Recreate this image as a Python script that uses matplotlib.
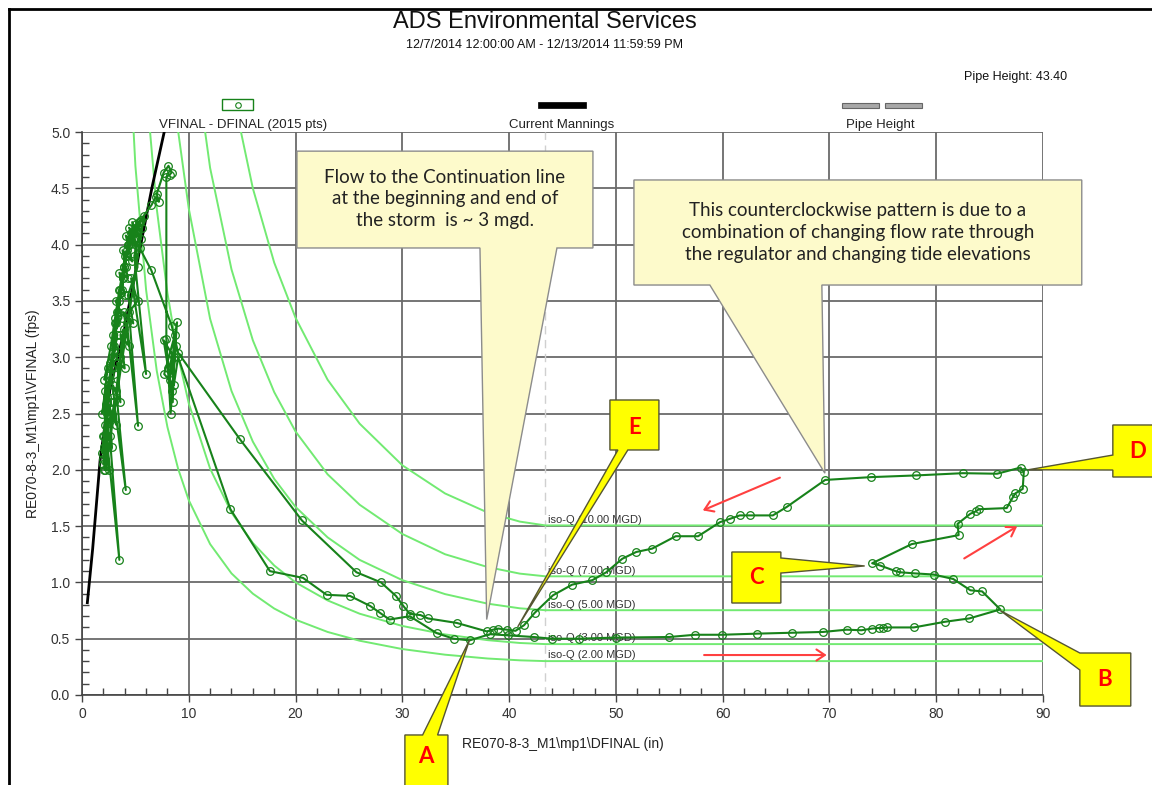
import matplotlib
matplotlib.use('Agg')
import matplotlib.pyplot as plt
from matplotlib.patches import Polygon, Rectangle, FancyArrowPatch
from matplotlib.lines import Line2D
from matplotlib.ticker import MultipleLocator, FormatStrFormatter

plt.rcParams['font.family'] = ['Liberation Sans', 'DejaVu Sans']

# --- data ---
# scatter path (depth in, velocity fps)
path_x = [2.0, 2.3, 2.1, 2.6, 2.2, 2.9, 2.5, 3.2, 2.8, 3.5, 3.0, 3.8, 3.4, 4.0, 3.7, 4.3, 3.9, 4.6, 4.2, 5.0,
          4.5, 5.4, 4.8, 5.6, 4.9, 6.0, 4.6, 5.2, 4.4, 5.25, 4.2, 3.6, 3.9, 3.2, 4.1, 3.0, 2.6, 3.5, 2.4, 2.0,
          2.3, 1.9, 2.4, 2.1, 2.8, 2.3, 3.3, 2.7, 3.1, 3.6, 3.3, 4.1, 3.8, 4.4, 4.2, 4.9, 4.6, 5.3, 5.0, 5.8,
          2.2, 2.5, 2.0, 2.7, 2.3, 3.0, 2.6, 3.4, 2.9, 3.7, 3.2, 4.0, 3.5, 4.3, 3.8, 4.7, 4.1, 5.1, 4.4, 5.5,
          4.7, 5.2, 4.3, 4.8, 3.9, 4.4, 3.6, 4.0, 3.3, 3.6, 2.9, 3.2, 2.6, 2.8, 2.3, 2.5, 2.1, 2.2, 1.9, 2.4,
          2.1, 2.7, 3.1, 3.5, 3.9, 4.3, 4.7, 5.1, 5.5,
          6.5, 6.9, 7.2, 7.0, 7.65, 8.1, 8.4, 8.2, 7.9, 7.9,
          8.3, 8.9, 8.2, 8.6, 7.65, 8.4, 8.8, 8.1, 8.5, 8.7, 7.7, 8.6, 9.0,
          13.9, 17.6, 20.7, 22.9, 25.1, 27.0, 27.9, 28.8, 30.7, 33.2, 34.8, 36.3,
          38.2, 39.9, 42.3, 44.0, 46.5, 50.0, 55.0, 57.4, 59.9, 63.25, 66.5, 69.4, 71.6, 73.0, 74.0, 74.6,
          75.0, 75.4, 77.9, 80.8, 83.1, 86.0,
          84.3, 83.2, 81.6, 79.75, 78.0, 76.6, 76.2, 74.75, 74.0,
          77.7, 82.1, 82.0, 83.2, 83.7, 84.0, 86.6, 87.2, 87.4, 88.1, 88.2, 87.9,
          85.7, 82.5, 78.1, 73.9, 69.6, 66.0, 64.7, 62.6, 61.6, 60.7, 59.75, 57.7, 55.6, 53.4, 51.9, 50.6,
          49.1, 47.8, 45.9, 44.1, 42.4, 41.4, 40.6, 39.8, 39.0, 38.5, 37.9,
          35.1, 32.4, 31.7, 30.7, 30.1, 29.4, 28.0, 25.7, 20.6, 14.8, 9.0, 8.4, 6.5, 5.4, 4.8]
path_y = [2.05, 2.6, 2.2, 2.8, 2.4, 3.0, 2.7, 3.3, 2.9, 3.5, 3.1, 3.7, 3.4, 3.9, 3.6, 4.0, 3.8, 4.1, 3.95, 4.15,
          4.05, 4.2, 4.1, 4.15, 3.9, 2.85, 3.7, 3.5, 3.4, 2.39, 3.3, 3.0, 3.25, 2.7, 1.82, 2.6, 2.3, 1.2, 2.2, 2.1,
          2.5, 2.15, 2.75, 2.3, 3.0, 2.6, 3.2, 2.9, 3.3, 3.6, 3.4, 3.8, 3.7, 4.0, 3.9, 4.1, 4.05, 4.2, 4.12, 4.25,
          2.0, 2.45, 2.3, 2.6, 2.65, 2.85, 2.95, 3.05, 3.2, 3.35, 3.5, 3.55, 3.75, 3.7, 3.95, 3.85, 4.08, 4.0, 4.15, 4.05,
          4.2, 3.8, 3.55, 3.3, 3.4, 3.1, 3.2, 2.9, 2.95, 2.6, 2.75, 2.4, 2.55, 2.2, 2.35, 2.0, 2.0, 2.7, 2.5, 2.9,
          2.8, 3.1, 3.35, 3.6, 3.8, 4.0, 4.1, 4.18, 4.22,
          4.35, 4.42, 4.38, 4.45, 4.64, 4.70, 4.64, 4.62, 4.60, 3.16,
          2.5, 3.31, 2.8, 3.0, 3.15, 2.7, 3.1, 2.9, 2.6, 3.2, 2.85, 2.75, 3.0,
          1.65, 1.10, 1.04, 0.89, 0.88, 0.79, 0.73, 0.67, 0.70, 0.55, 0.50, 0.485,
          0.54, 0.53, 0.515, 0.50, 0.50, 0.51, 0.515, 0.535, 0.535, 0.545, 0.553, 0.56, 0.58, 0.575, 0.59, 0.595,
          0.595, 0.60, 0.60, 0.65, 0.68, 0.76,
          0.92, 0.93, 1.03, 1.07, 1.08, 1.09, 1.10, 1.15, 1.17,
          1.34, 1.42, 1.52, 1.61, 1.63, 1.65, 1.66, 1.76, 1.79, 1.83, 1.98, 2.02,
          1.965, 1.97, 1.95, 1.935, 1.91, 1.67, 1.595, 1.595, 1.595, 1.565, 1.535, 1.41, 1.41, 1.30, 1.27, 1.21,
          1.09, 1.02, 0.98, 0.885, 0.73, 0.62, 0.57, 0.58, 0.59, 0.58, 0.565,
          0.64, 0.68, 0.71, 0.72, 0.79, 0.88, 1.0, 1.09, 1.55, 2.27, 3.04, 3.28, 3.77, 3.97, 4.05]

# current Mannings curve
mann_x = [0.5, 1.0, 1.7, 2.66, 3.9, 5.5, 6.56, 7.7]
mann_y = [0.82, 1.30, 2.09, 2.74, 3.21, 4.0, 4.51, 5.0]

# iso-Q curves (depth in, velocity fps)
iso_depth = [4, 5, 6, 7, 8, 9, 10, 12, 14, 16, 18, 20, 23, 26, 30, 34, 38, 41, 43.4, 90]
iso_q2 = [6.52, 4.70, 3.60, 2.88, 2.38, 2.01, 1.73, 1.34, 1.08, 0.900, 0.768, 0.669, 0.560, 0.482, 0.408,
          0.358, 0.324, 0.308, 0.301, 0.301]
iso_q3 = [9.78, 7.05, 5.41, 4.32, 3.57, 3.01, 2.59, 2.01, 1.62, 1.35, 1.15, 1.00, 0.840, 0.722, 0.613,
          0.538, 0.487, 0.462, 0.452, 0.452]
iso_q5 = [16.3, 11.76, 9.01, 7.21, 5.95, 5.01, 4.32, 3.34, 2.70, 2.25, 1.92, 1.67, 1.40, 1.20, 1.02,
          0.896, 0.811, 0.770, 0.753, 0.753]
iso_q7 = [22.8, 16.5, 12.6, 10.1, 8.32, 7.02, 6.05, 4.68, 3.78, 3.15, 2.69, 2.34, 1.96, 1.69, 1.43,
          1.25, 1.136, 1.078, 1.054, 1.054]
iso_q10 = [32.6, 23.5, 18.0, 14.4, 11.9, 10.0, 8.65, 6.69, 5.40, 4.50, 3.84, 3.35, 2.80, 2.41, 2.04,
           1.79, 1.62, 1.54, 1.506, 1.506]
iso_labels = ['iso-Q (2.00 MGD)', 'iso-Q (3.00 MGD)', 'iso-Q (5.00 MGD)', 'iso-Q (7.00 MGD)', 'iso-Q (10.00 MGD)']

pipe_height = 43.40

GREEN = '#17821a'
LGREEN = '#72ea72'
GRID = '#6a6a6a'

fig = plt.figure(figsize=(11.52, 7.85), dpi=100)
ax = fig.add_axes([82 / 1152, 90 / 785, 961 / 1152, 563 / 785])

ax.set_xlim(0, 90)
ax.set_ylim(0, 5)
ax.xaxis.set_major_locator(MultipleLocator(10))
ax.xaxis.set_minor_locator(MultipleLocator(2))
ax.yaxis.set_major_locator(MultipleLocator(0.5))
ax.yaxis.set_minor_locator(MultipleLocator(0.1))
ax.yaxis.set_major_formatter(FormatStrFormatter('%.1f'))
ax.grid(True, which='major', color=GRID, lw=1.3, zorder=0)
ax.set_axisbelow(True)
ax.tick_params(which='major', direction='out', length=5, width=1, color='#444', labelsize=10,
               labelcolor='#333')
ax.tick_params(which='minor', direction='in', length=5, width=1, color='#444')
for s in ['top', 'right']:
    ax.spines[s].set_visible(False)
for s in ['left', 'bottom']:
    ax.spines[s].set_color('#444')
    ax.spines[s].set_linewidth(1.2)

ax.axvline(pipe_height, color='#d0d0d0', lw=1, ls=(0, (6, 4)), zorder=1)

for v, lab in zip([iso_q2, iso_q3, iso_q5, iso_q7, iso_q10], iso_labels):
    ax.plot(iso_depth, v, color=LGREEN, lw=1.4, zorder=2)
    ax.text(43.6, v[-1] + 0.05, lab, fontsize=8, color='#333', va='center', ha='left', zorder=3)

ax.plot(mann_x, mann_y, color='black', lw=2, zorder=4)
ax.plot(path_x, path_y, color=GREEN, lw=1.5, marker='o', ms=5.5, mfc='none', mec=GREEN, mew=0.9, zorder=5)

ax.set_xlabel('RE070-8-3_M1\\mp1\\DFINAL (in)', fontsize=10, color='#222', labelpad=2)
ax.set_ylabel('RE070-8-3_M1\\mp1\\VFINAL (fps)', fontsize=10, color='#222', labelpad=8)
ax.xaxis.set_label_coords(0.5, -0.075)

# red direction arrows
for (x0, y0, x1, y1) in [(58.0, 0.355, 70.0, 0.355), (82.4, 1.20, 87.8, 1.51), (65.6, 1.94, 57.9, 1.63)]:
    ax.add_patch(FancyArrowPatch((x0, y0), (x1, y1), arrowstyle='->,head_length=6,head_width=4',
                                 color='#ff4040', lw=1.5, zorder=6))

# speech callouts
CALL = '#fdfacb'
bub1 = [(20.13, 4.83), (47.85, 4.83), (47.85, 3.97), (44.48, 3.97), (37.9, 0.67), (37.27, 3.97), (20.13, 3.97)]
bub2 = [(51.69, 4.574), (93.63, 4.574), (93.63, 3.641), (69.29, 3.641), (69.57, 1.97), (58.8, 3.641),
        (51.69, 3.641)]
for b in [bub1, bub2]:
    ax.add_patch(Polygon(b, closed=True, fc=CALL, ec='#8c8c8c', lw=1, clip_on=False, zorder=10))
ax.text(33.99, 4.405, 'Flow to the Continuation line\nat the beginning and end of\nthe storm  is ~ 3 mgd.',
        ha='center', va='center', fontsize=13.5, family='Lato', color='#222', linespacing=1.35,
        zorder=11, clip_on=False)
ax.text(72.66, 4.11, 'This counterclockwise pattern is due to a\ncombination of changing flow rate through\n'
        'the regulator and changing tide elevations',
        ha='center', va='center', fontsize=13.5, family='Lato', color='#222', linespacing=1.35,
        zorder=11, clip_on=False)

# yellow letter tags: box corners, pointer base/tip, letter position
tags = {
    'A': ([(30.24, -0.355), (31.9, -0.355), (36.3, 0.49), (33.3, -0.355), (34.27, -0.355),
           (34.27, -0.85), (30.24, -0.85)], (32.25, -0.55)),
    'B': ([(93.45, 0.373), (98.22, 0.373), (98.22, -0.098), (93.45, -0.098), (93.45, 0.222),
           (86.0, 0.75), (93.45, 0.373)], (95.8, 0.14)),
    'C': ([(60.86, 1.270), (65.45, 1.270), (65.45, 1.217), (73.3, 1.146), (65.45, 1.083), (65.45, 0.817),
           (60.86, 0.817)], (63.15, 1.04)),
    'D': ([(96.54, 2.398), (100.5, 2.398), (100.5, 1.936), (96.54, 1.936), (96.54, 1.998), (88.6, 2.0),
           (96.54, 2.131)], (98.9, 2.16)),
    'E': ([(49.44, 2.62), (54.03, 2.62), (54.03, 2.176), (51.12, 2.176), (40.8, 0.604), (50.19, 2.176),
           (49.44, 2.176)], (51.73, 2.38)),
}
for k, (poly, pos) in tags.items():
    ax.add_patch(Polygon(poly, closed=True, fc='#ffff00', ec='#555533', lw=1, clip_on=False, zorder=12))
    ax.text(pos[0], pos[1], k, ha='center', va='center', fontsize=16, fontweight='bold', family='Lato',
            color='#ff0000', zorder=13, clip_on=False)

# headings
fig.text(545 / 1152, 1 - 22 / 785, 'ADS Environmental Services', ha='center', va='center', fontsize=17,
         color='#111')
fig.text(545 / 1152, 1 - 45 / 785, '12/7/2014 12:00:00 AM - 12/13/2014 11:59:59 PM', ha='center',
         va='center', fontsize=9, color='#111')
fig.text(1067 / 1152, 1 - 77 / 785, 'Pipe Height: 43.40', ha='right', va='center', fontsize=9, color='#111')

# legend row
leg_y = 1 - 125 / 785
fig.text(243 / 1152, leg_y, 'VFINAL - DFINAL (2015 pts)', ha='center', va='center', fontsize=9.5, color='#222')
fig.text(562 / 1152, leg_y, 'Current Mannings', ha='center', va='center', fontsize=9.5, color='#222')
fig.text(880 / 1152, leg_y, 'Pipe Height', ha='center', va='center', fontsize=9.5, color='#222')
fig.add_artist(Rectangle((222 / 1152, 1 - 110 / 785), 31 / 1152, 11 / 785, transform=fig.transFigure,
                         fc='white', ec=GREEN, lw=1))
fig.add_artist(Line2D([237.5 / 1152], [1 - 104.5 / 785], transform=fig.transFigure, marker='o', ms=4,
                      mfc='none', mec=GREEN, mew=0.8))
fig.add_artist(Rectangle((538 / 1152, 1 - 108 / 785), 48 / 1152, 6 / 785, transform=fig.transFigure,
                         fc='black', ec='black', lw=0.5))
for x0 in [842, 885]:
    fig.add_artist(Rectangle((x0 / 1152, 1 - 108 / 785), 37 / 1152, 5 / 785, transform=fig.transFigure,
                             fc='#a8a8a8', ec='#666', lw=0.8))

# frame lines
fig.add_artist(Line2D([9 / 1152, 9 / 1152], [0, 1 - 9 / 785], transform=fig.transFigure, color='black', lw=2))
fig.add_artist(Line2D([9 / 1152, 1], [1 - 9 / 785, 1 - 9 / 785], transform=fig.transFigure, color='black', lw=2))

fig.savefig('out.png', dpi=100)
